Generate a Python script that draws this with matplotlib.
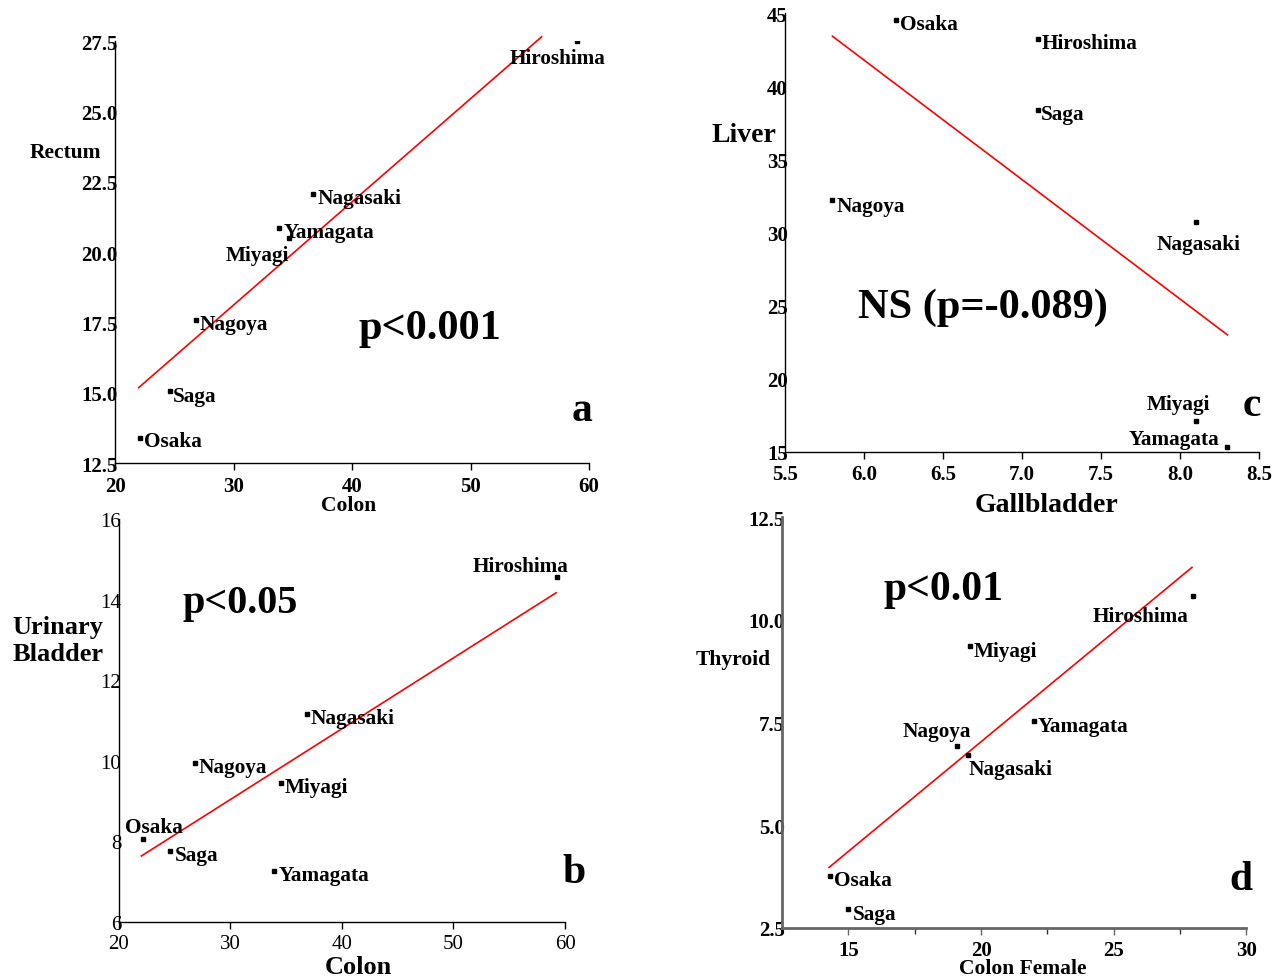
import numpy as np
import matplotlib
matplotlib.use("Agg")
import matplotlib.pyplot as plt
from matplotlib.ticker import MultipleLocator, FormatStrFormatter

plt.rcParams["font.family"] = ["Liberation Serif", "DejaVu Serif"]

W, H = 1282, 978

cities = ["Hiroshima", "Nagasaki", "Yamagata", "Miyagi", "Nagoya", "Saga", "Osaka"]

# panel a: colon vs rectum
colon_a = [59.0, 36.7, 33.8, 34.7, 26.8, 24.6, 22.1]
rectum = [27.5, 22.05, 20.85, 20.5, 17.6, 15.05, 13.4]
# panel b: colon vs urinary bladder
colon_b = [59.3, 36.9, 33.95, 34.6, 26.85, 24.65, 22.2]
bladder = [14.57, 11.16, 7.27, 9.46, 9.95, 7.77, 8.07]
# panel c: gallbladder vs liver
gallbladder = [7.1, 8.1, 8.3, 8.1, 5.8, 7.1, 6.2]
liver = [43.2, 30.7, 15.35, 17.1, 32.2, 38.4, 44.5]
# panel d: colon female vs thyroid
colon_female = [28.0, 19.5, 22.0, 19.57, 19.1, 15.0, 14.32]
thyroid = [10.58, 6.72, 7.54, 9.37, 6.94, 2.96, 3.77]

# x-range the regression line covers
fit_range = {"a": [22.0, 56.0], "b": [22.05, 59.2], "c": [5.8, 8.3], "d": [14.27, 27.95]}
p_texts = {"a": "p<0.001", "b": "p<0.05", "c": "NS (p=-0.089)", "d": "p<0.01"}

# label offsets in pixels (dx, dy, ha)
L = "left"
offsets = {
    "a": {"Hiroshima": (-20, -15, "center"), "Nagasaki": (5, -2, L), "Yamagata": (5, -2, L),
          "Miyagi": (0, -15, "right"), "Nagoya": (4, -2, L), "Saga": (3, -3, L), "Osaka": (4, -1, L)},
    "b": {"Hiroshima": (11, 13, "right"), "Nagasaki": (3, -2, L), "Yamagata": (4, -2, L),
          "Miyagi": (3, -2, L), "Nagoya": (4, -2, L), "Saga": (4, -2, L), "Osaka": (11, 14, "center")},
    "c": {"Hiroshima": (4, -2, L), "Nagasaki": (3, -20, "center"), "Yamagata": (-8, 10, "right"),
          "Miyagi": (-17, 19, "center"), "Nagoya": (4, -4, L), "Saga": (3, -2, L), "Osaka": (4, -2, L)},
    "d": {"Hiroshima": (-5, -18, "right"), "Nagasaki": (1, -12, L), "Yamagata": (4, -3, L),
          "Miyagi": (4, -3, L), "Nagoya": (14, 17, "right"), "Saga": (4, -3, L), "Osaka": (4, -2, L)},
}


def px_axes(left, top, right, bottom):
    return [left / W, 1 - bottom / H, (right - left) / W, (bottom - top) / H]


def fig_text(fig, x, y, s, **kw):
    # y + 3 compensates for the descent included in va="center"
    fig.text(x / W, 1 - (y + 3) / H, s, ha=kw.pop("ha", "center"), va=kw.pop("va", "center"), **kw)


def draw_panel(ax, key, x, y, spine_color="black", spine_width=1.0, tick_weight="bold", tick_size=15):
    ax.plot(x, y, "s", color="black", markersize=3, zorder=3)
    k, b = np.polyfit(x, y, 1)
    xs = np.array(fit_range[key])
    ax.plot(xs, k * xs + b, color="red", linewidth=1.2, clip_on=False)
    for name, xi, yi in zip(cities, x, y):
        dx, dy, ha = offsets[key][name]
        ax.annotate(name, (xi, yi), xytext=(dx, dy - 2), textcoords="offset pixels",
                    ha=ha, va="center", fontsize=15.3, fontweight="bold")
    for side in ["top", "right"]:
        ax.spines[side].set_visible(False)
    for side in ["left", "bottom"]:
        ax.spines[side].set_color(spine_color)
        ax.spines[side].set_linewidth(spine_width)
    ax.tick_params(axis="x", length=5, width=1, pad=4, labelsize=tick_size, color=spine_color)
    ax.tick_params(axis="y", length=0, pad=-2, labelsize=tick_size)
    for lab in ax.get_xticklabels() + ax.get_yticklabels():
        lab.set_fontweight(tick_weight)


fig = plt.figure(figsize=(W / 100, H / 100), dpi=100)

# a
ax = fig.add_axes(px_axes(115, 42, 589, 464))
ax.set_xlim(20, 60)
ax.set_ylim(12.5, 27.5)
ax.xaxis.set_major_locator(MultipleLocator(10))
ax.yaxis.set_major_locator(MultipleLocator(2.5))
ax.yaxis.set_major_formatter(FormatStrFormatter("%.1f"))
draw_panel(ax, "a", colon_a, rectum)

# c
ax = fig.add_axes(px_axes(785, 14, 1259, 453))
ax.set_xlim(5.5, 8.5)
ax.set_ylim(15, 45)
ax.xaxis.set_major_locator(MultipleLocator(0.5))
ax.xaxis.set_major_formatter(FormatStrFormatter("%.1f"))
ax.yaxis.set_major_locator(MultipleLocator(5))
draw_panel(ax, "c", gallbladder, liver)

# b
ax = fig.add_axes(px_axes(118.5, 520, 565, 923))
ax.set_xlim(20, 60)
ax.set_ylim(6, 16)
ax.xaxis.set_major_locator(MultipleLocator(10))
ax.yaxis.set_major_locator(MultipleLocator(2))
draw_panel(ax, "b", colon_b, bladder, tick_weight="normal", tick_size=15)

# d
ax = fig.add_axes(px_axes(782, 518, 1246.4, 929))
ax.set_xlim(12.5, 30)
ax.set_ylim(2.5, 12.5)
ax.set_xticks([15, 20, 25, 30])
ax.set_xticks([17.5, 22.5, 27.5], minor=True)
ax.yaxis.set_major_locator(MultipleLocator(2.5))
ax.yaxis.set_major_formatter(FormatStrFormatter("%.1f"))
draw_panel(ax, "d", colon_female, thyroid, spine_color="#666666", spine_width=2.0)
ax.tick_params(axis="x", which="minor", length=4, width=1, color="#333333")

# axis titles
fig_text(fig, 65, 150, "Rectum", fontsize=15.5, fontweight="bold")
fig_text(fig, 349, 503, "Colon", fontsize=15.5, fontweight="bold")
fig_text(fig, 744, 132, "Liver", fontsize=20, fontweight="bold")
fig_text(fig, 1047, 502, "Gallbladder", fontsize=20, fontweight="bold")
fig_text(fig, 58, 638, "Urinary\nBladder", fontsize=19, fontweight="bold", linespacing=1.2)
fig_text(fig, 358, 965, "Colon", fontsize=19, fontweight="bold")
fig_text(fig, 733, 657, "Thyroid", fontsize=15.5, fontweight="bold")
fig_text(fig, 1023, 966, "Colon Female", fontsize=15.5, fontweight="bold")

# p values and panel letters
fig_text(fig, 430, 326, p_texts["a"], fontsize=30.5, fontweight="bold")
fig_text(fig, 983, 305, p_texts["c"], fontsize=30.5, fontweight="bold")
fig_text(fig, 240, 600, p_texts["b"], fontsize=29, fontweight="bold")
fig_text(fig, 944, 587, p_texts["d"], fontsize=30, fontweight="bold")
fig_text(fig, 582, 408, "a", fontsize=30, fontweight="bold")
fig_text(fig, 1252, 403, "c", fontsize=30, fontweight="bold")
fig_text(fig, 574, 870, "b", fontsize=30, fontweight="bold")
fig_text(fig, 1241, 877, "d", fontsize=30, fontweight="bold")

fig.savefig("out.png", dpi=100)
